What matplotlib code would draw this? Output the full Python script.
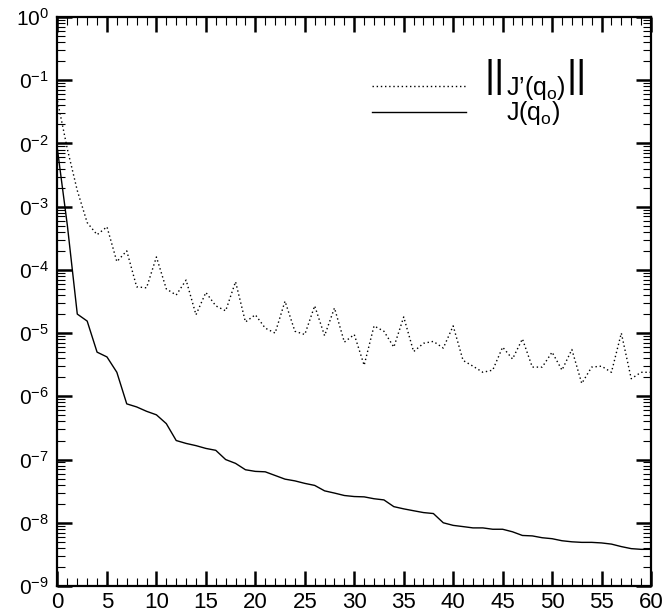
import matplotlib
matplotlib.use("Agg")
import matplotlib.pyplot as plt
from matplotlib.lines import Line2D
from matplotlib.ticker import FixedLocator, LogLocator, NullFormatter
import numpy as np

plt.rcParams['font.family'] = ['Liberation Sans', 'DejaVu Sans']
plt.rcParams['mathtext.fontset'] = 'custom'
plt.rcParams['mathtext.rm'] = 'Liberation Sans'
plt.rcParams['mathtext.it'] = 'Liberation Sans:italic'
plt.rcParams['mathtext.default'] = 'regular'

# === data ===
iters = list(range(0, 61))

grad_norm = [4.7e-2, 8.1e-3, 1.8e-3, 5.6e-4, 3.6e-4, 4.8e-4, 1.35e-4, 2.0e-4, 5.4e-5, 5.2e-5,
             1.6e-4, 5.0e-5, 4.0e-5, 6.9e-5, 1.95e-5, 4.4e-5, 2.7e-5, 2.25e-5, 6.5e-5, 1.5e-5,
             1.95e-5, 1.2e-5, 1.0e-5, 3.2e-5, 1.07e-5, 9.5e-6, 2.7e-5, 9.1e-6, 2.5e-5, 7.2e-6,
             9.5e-6, 3.1e-6, 1.3e-5, 1.07e-5, 6.0e-6, 1.8e-5, 5.1e-6, 6.9e-6, 7.4e-6, 5.8e-6,
             1.3e-5, 3.7e-6, 3.0e-6, 2.4e-6, 2.6e-6, 6.0e-6, 3.9e-6, 8.1e-6, 2.9e-6, 2.9e-6,
             5.0e-6, 2.6e-6, 5.5e-6, 1.6e-6, 2.9e-6, 3.0e-6, 2.4e-6, 1.0e-5, 1.9e-6, 2.4e-6,
             2.4e-6]

cost = [7.9e-3, 5.0e-4, 2.0e-5, 1.55e-5, 5.0e-6, 4.2e-6, 2.4e-6, 7.6e-7, 6.8e-7, 5.8e-7,
        5.1e-7, 3.7e-7, 2.0e-7, 1.8e-7, 1.66e-7, 1.5e-7, 1.4e-7, 1.0e-7, 8.7e-8, 6.9e-8,
        6.5e-8, 6.4e-8, 5.6e-8, 4.9e-8, 4.6e-8, 4.2e-8, 3.9e-8, 3.2e-8, 2.95e-8, 2.7e-8,
        2.6e-8, 2.57e-8, 2.4e-8, 2.3e-8, 1.8e-8, 1.66e-8, 1.55e-8, 1.45e-8, 1.4e-8, 1.0e-8,
        9.1e-9, 8.7e-9, 8.3e-9, 8.3e-9, 7.9e-9, 7.9e-9, 7.2e-9, 6.3e-9, 6.2e-9, 5.8e-9,
        5.6e-9, 5.2e-9, 5.0e-9, 4.9e-9, 4.9e-9, 4.8e-9, 4.6e-9, 4.2e-9, 3.9e-9, 3.8e-9,
        3.8e-9]

x_ticks = list(range(0, 61, 5))
y_ticks = [1e-9, 1e-8, 1e-7, 1e-6, 1e-5, 1e-4, 1e-3, 1e-2, 1e-1, 1e0]
y_ticklabels = [r"$0^{-9}$", r"$0^{-8}$", r"$0^{-7}$", r"$0^{-6}$", r"$0^{-5}$",
                r"$0^{-4}$", r"$0^{-3}$", r"$0^{-2}$", r"$0^{-1}$", r"$10^{0}$"]

label_grad = "J\u2019(q$_{o}$)"
label_cost = "J(q$_{o}$)"

# === figure ===
fig = plt.figure(figsize=(6.64, 6.13), dpi=100)
ax = fig.add_axes([57.5 / 664, 27 / 613, 593.5 / 664, 569 / 613])

ax.plot(iters, grad_norm, color='black', lw=1.0, linestyle=(0, (1, 2)))
ax.plot(iters, cost, color='black', lw=1.0)

ax.set_yscale('log')
ax.set_xlim(0, 60)
ax.set_ylim(1e-9, 1e0)

ax.set_xticks(x_ticks)
ax.xaxis.set_minor_locator(FixedLocator(iters))
ax.set_yticks(y_ticks)
ax.set_yticklabels(y_ticklabels)
ax.yaxis.set_minor_locator(LogLocator(base=10, subs=np.arange(2, 10)))
ax.yaxis.set_minor_formatter(NullFormatter())

ax.tick_params(which='both', direction='in', top=True, right=True)
ax.tick_params(which='major', length=10.5, width=1.8)
ax.tick_params(which='minor', length=6, width=0.8)
ax.tick_params(axis='y', which='major', labelsize=15, pad=6)
ax.tick_params(axis='x', which='major', labelsize=16, pad=4)
for sp in ax.spines.values():
    sp.set_linewidth(1.6)

handles = [Line2D([], [], color='black', lw=1.0, linestyle=(0, (1, 2))),
           Line2D([], [], color='black', lw=1.0)]
ax.legend(handles, [label_grad, label_cost], loc='upper left',
          bbox_to_anchor=((372 - 57.5) / 593.5, 0.900), frameon=False,
          fontsize=18, borderpad=0, borderaxespad=0, handlelength=3.75,
          handletextpad=1.62, labelspacing=-0.1)

# norm bars around the first legend label
fig.text(484 / 664, 1 - 77 / 613, "||", fontsize=28, ha='left', va='center')
fig.text(566 / 664, 1 - 77 / 613, "||", fontsize=28, ha='left', va='center')

fig.savefig("out.png", dpi=100)
